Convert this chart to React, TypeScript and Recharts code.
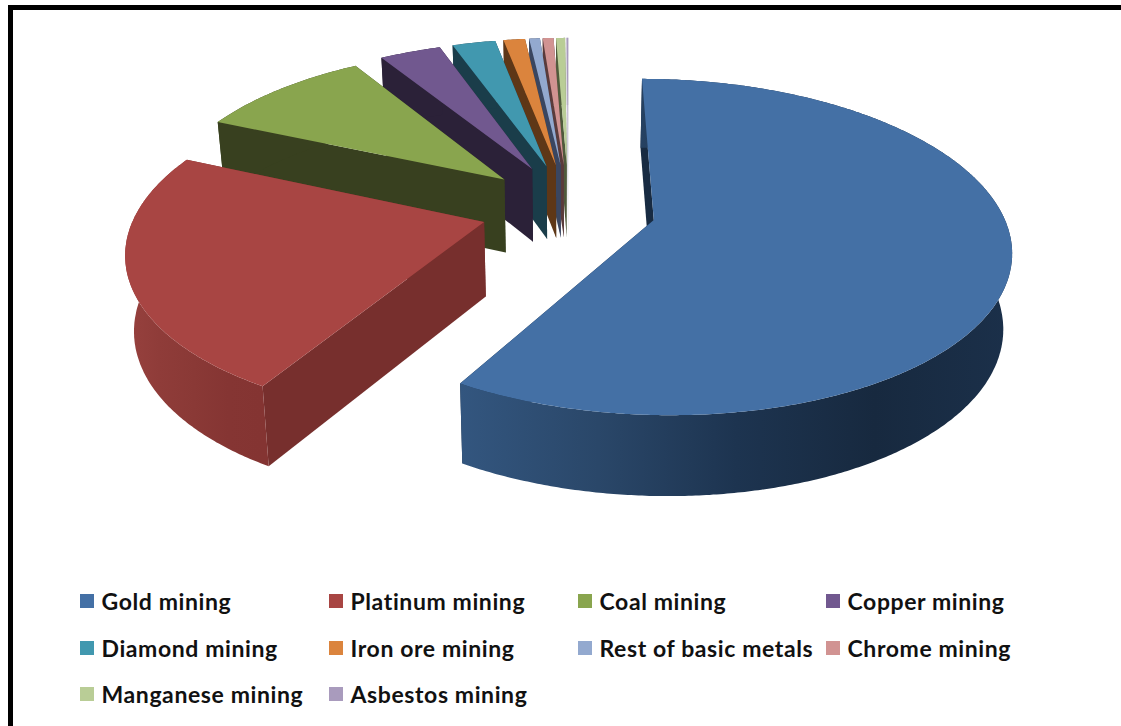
import { PieChart, Pie, Legend } from 'recharts';

const categories = [
  'Gold mining',
  'Platinum mining',
  'Coal mining',
  'Copper mining',
  'Diamond mining',
  'Iron ore mining',
  'Rest of basic metals',
  'Chrome mining',
  'Manganese mining',
  'Asbestos mining',
];
const shares = [58.5, 23.1, 9.6, 3.4, 2.4, 1.2, 0.6, 0.6, 0.5, 0.1];

const topColors = ['#4470A5', '#A84543', '#89A54E', '#71588F', '#4198AF', '#DB843D', '#93A9CF', '#D19392', '#B9CD96', '#A99BBD'];
const wallColors = ['#182B42', '#772F2D', '#38401F', '#2B2138', '#1A3D4A', '#5E3717', '#3A4660', '#5A3B3B', '#4F5A3C', '#CFCFD6'];
// left to right shading of the curved outer wall
const rimStops: Record<string, string[]> = {
  'Gold mining': ['#33567F', '#2A4769', '#1D3450', '#17293F', '#1B304A'],
  'Platinum mining': ['#97413E', '#8F3C39', '#8A3936', '#853533', '#843432'],
};

// painted from the back slice to the front one, so the list runs backwards round the pie
const pieData = categories
  .map((name, i) => ({ name, value: shares[i], fill: topColors[i], wall: wallColors[i] }))
  .reverse();

const CX = 568.5;
const CY = 208;
const RX = 347;
const RY = 160;
const PERSP = 0.159;
const EXPLODE_X = 0.252;
const EXPLODE_Y = 0.28;
const DEPTH = 74;
const TAPER = 0.98;

const project = (wx: number, wy: number) => {
  const s = 1 + PERSP * wy;
  return { x: CX + (RX * wx) / s, y: CY - (RY * wy) / s };
};

const drop = (wx: number, wy: number) => {
  const p = project(wx, wy);
  return {
    x: CX + (p.x - CX) * TAPER,
    y: p.y + DEPTH / (1 + 0.5 * PERSP * wy),
  };
};

type Pt = { x: number; y: number };
const toPath = (pts: Pt[]) =>
  'M' + pts.map((p) => `${p.x.toFixed(1)},${p.y.toFixed(1)}`).join('L') + 'Z';

const Slice3D = (props: any) => {
  const { startAngle, endAngle, midAngle, fill, wall, name } = props;
  const t0 = 450 - endAngle;
  const t1 = 450 - startAngle;
  const mid = ((450 - (midAngle ?? (startAngle + endAngle) / 2)) * Math.PI) / 180;
  const ox = EXPLODE_X * Math.sin(mid);
  const oy = EXPLODE_Y * Math.cos(mid);

  const rim: [number, number][] = [];
  const steps = Math.max(2, Math.ceil((t1 - t0) * 2));
  for (let i = 0; i <= steps; i++) {
    const t = ((t0 + ((t1 - t0) * i) / steps) * Math.PI) / 180;
    rim.push([ox + Math.sin(t), oy + Math.cos(t)]);
  }
  const topRim = rim.map(([a, b]) => project(a, b));
  const lowRim = rim.map(([a, b]) => drop(a, b));
  const apexTop = project(ox, oy);
  const apexLow = drop(ox, oy);
  const last = rim.length - 1;

  const stops = rimStops[name];
  const gradId = `rim-${name.replace(/\s/g, '')}`;
  const xs = topRim.map((p) => p.x);

  return (
    <g>
      {stops && (
        <defs>
          <linearGradient
            id={gradId}
            gradientUnits="userSpaceOnUse"
            x1={Math.min(...xs)}
            x2={Math.max(...xs)}
            y1={0}
            y2={0}
          >
            {stops.map((c, i) => (
              <stop key={c} offset={i / (stops.length - 1)} stopColor={c} />
            ))}
          </linearGradient>
        </defs>
      )}
      <path d={toPath([apexTop, topRim[last], lowRim[last], apexLow])} fill={wall} />
      <path d={toPath([apexTop, topRim[0], lowRim[0], apexLow])} fill={wall} />
      <path
        d={toPath([...topRim, ...[...lowRim].reverse()])}
        fill={stops ? `url(#${gradId})` : wall}
      />
      <path d={toPath([apexTop, ...topRim])} fill={fill} />
    </g>
  );
};

const MiningLegend = ({ payload }: any) => (
  <div
    style={{
      display: 'grid',
      gridTemplateColumns: '249px 249px 248px 240px',
      gridAutoRows: '46.5px',
      fontFamily: 'Lato, sans-serif',
      fontWeight: 700,
      fontSize: 23,
      letterSpacing: 0.6,
      color: '#111',
    }}
  >
    {[...(payload ?? [])].reverse().map((item: any) => (
      <div key={item.value} style={{ display: 'flex', alignItems: 'center', gap: 7.5, whiteSpace: 'nowrap' }}>
        <span style={{ width: 14, height: 14, background: item.color, display: 'inline-block' }} />
        <span>{item.value}</span>
      </div>
    ))}
  </div>
);

export default function App() {
  return (
    <div style={{ position: 'absolute', left: 0, top: 0, width: 1121, height: 726, overflow: 'hidden', background: '#fff' }}>
      <div
        style={{
          position: 'absolute',
          left: 8,
          top: 5,
          right: 0,
          bottom: 0,
          borderTop: '5px solid #000',
          borderLeft: '5px solid #000',
        }}
      />
      <PieChart width={1121} height={726} style={{ position: 'absolute', left: 0, top: 0 }}>
        <Pie
          data={pieData}
          dataKey="value"
          nameKey="name"
          startAngle={90}
          endAngle={450}
          cx={CX}
          cy={CY}
          outerRadius={RY}
          stroke="none"
          labelLine={false}
          isAnimationActive={false}
          shape={Slice3D}
        />
        <Legend
          content={<MiningLegend />}
          itemSorter={null}
          wrapperStyle={{ position: 'absolute', left: 80, top: 578, width: 1000, height: 140 }}
        />
      </PieChart>
    </div>
  );
}
